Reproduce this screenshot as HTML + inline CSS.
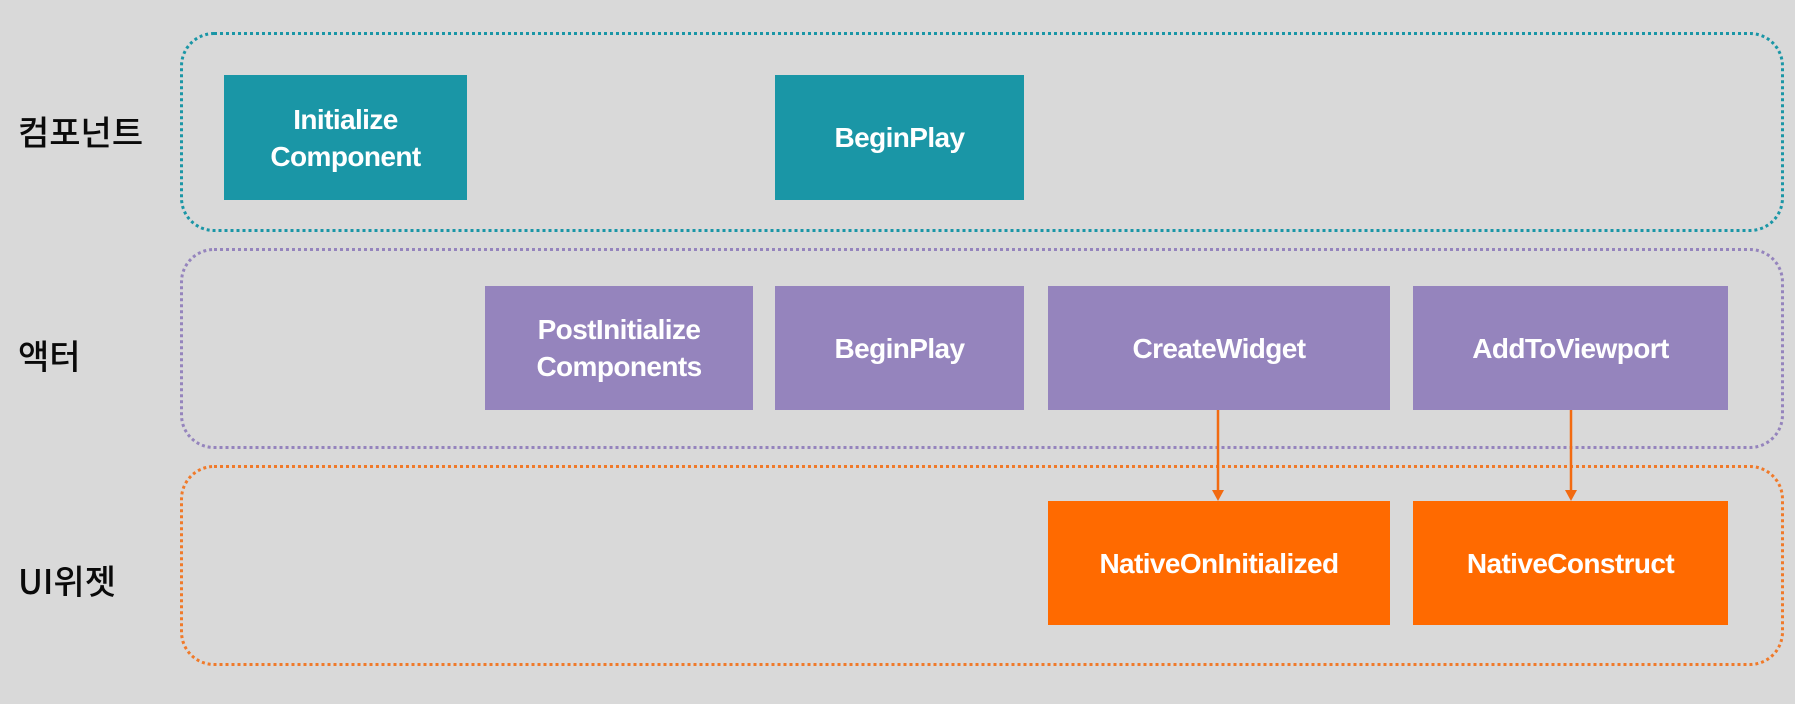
<!DOCTYPE html>
<html><head><meta charset="utf-8"><style>
body{margin:0;width:1795px;height:704px;background:#d9d9d9;position:relative;overflow:hidden;font-family:"Liberation Sans","Noto Sans CJK KR",sans-serif}
.g{position:absolute;left:180px;width:1604px;border:3px dotted;border-radius:34px;box-sizing:border-box}
.b{position:absolute;display:flex;align-items:center;justify-content:center;text-align:center;color:#fff;font-size:28px;line-height:37px;font-weight:bold;letter-spacing:-0.6px}
.t{background:#1a96a6}.p{background:#9584bd}.o{background:#ff6a00}
.l{position:absolute;left:18px;font-size:34px;color:#0a0a0a;font-weight:500;font-family:"Noto Sans CJK KR",sans-serif}
</style></head><body>
<div class="g" style="top:32px;height:200px;border-color:#1a96a6"></div>
<div class="g" style="top:248px;height:201px;border-color:#9584bd"></div>
<div class="g" style="top:465px;height:201px;border-color:#f07a2a"></div>
<div class="l" style="top:106px">컴포넌트</div>
<div class="l" style="top:330px">액터</div>
<div class="l" style="top:555px">UI위젯</div>
<div class="b t" style="left:224px;top:75px;width:243px;height:125px">Initialize<br>Component</div>
<div class="b t" style="left:775px;top:75px;width:249px;height:125px">BeginPlay</div>
<div class="b p" style="left:485px;top:286px;width:268px;height:124px">PostInitialize<br>Components</div>
<div class="b p" style="left:775px;top:286px;width:249px;height:124px">BeginPlay</div>
<div class="b p" style="left:1048px;top:286px;width:342px;height:124px">CreateWidget</div>
<div class="b p" style="left:1413px;top:286px;width:315px;height:124px">AddToViewport</div>
<div class="b o" style="left:1048px;top:501px;width:342px;height:124px">NativeOnInitialized</div>
<div class="b o" style="left:1413px;top:501px;width:315px;height:124px">NativeConstruct</div>
<svg style="position:absolute;left:0;top:0" width="1795" height="704">
<g stroke="#f26a10" stroke-width="2.5" fill="#f26a10">
<line x1="1218" y1="410" x2="1218" y2="492"/><polygon points="1212,490 1224,490 1218,501" stroke="none"/>
<line x1="1571" y1="410" x2="1571" y2="492"/><polygon points="1565,490 1577,490 1571,501" stroke="none"/>
</g></svg>
</body></html>
